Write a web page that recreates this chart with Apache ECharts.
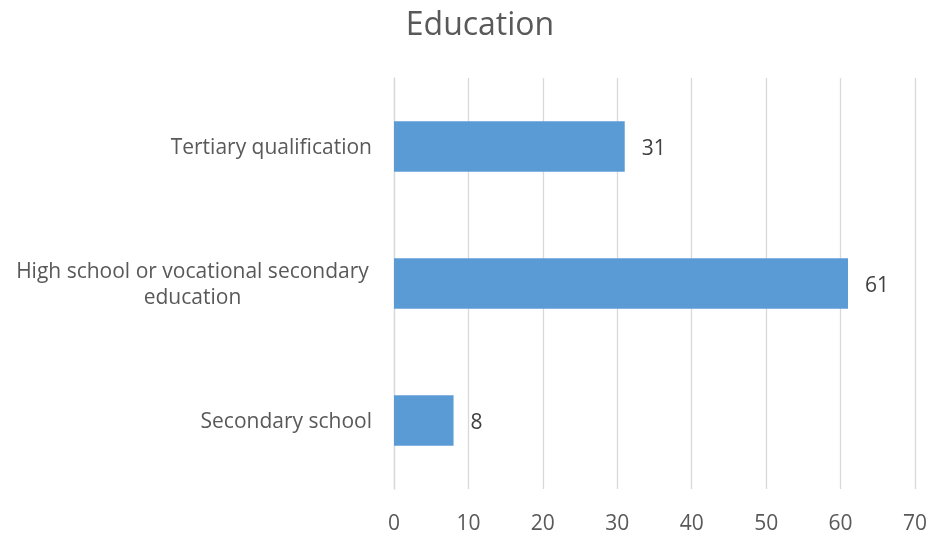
<!DOCTYPE html>
<html><head><meta charset="utf-8">
<script src="https://cdn.jsdelivr.net/npm/echarts@6/dist/echarts.min.js"></script>
<style>html,body{margin:0;padding:0;background:#fff}#c{width:931px;height:535px}</style>
</head><body><div id="c"></div>
<script>
const categories = ['Secondary school', 'High school or vocational secondary education', 'Tertiary qualification'];
const values = [8, 61, 31];
const xTicks = [0, 10, 20, 30, 40, 50, 60, 70];

const FONT = 'Open Sans';
const FS = 21;
const line1 = 'High school or vocational secondary';
const cv = document.createElement('canvas').getContext('2d');
cv.font = FS + 'px "' + FONT + '"';
const w1 = Math.ceil(cv.measureText(line1).width) + 6;

const chart = echarts.init(document.getElementById('c'));
chart.setOption({
  animation: false,
  title: {
    text: 'Education', left: 475, top: 5, textAlign: 'center',
    textStyle: { fontFamily: FONT, fontSize: 32, fontWeight: 'normal', color: '#595959' }
  },
  grid: { left: 394, right: 16, top: 78, bottom: 43 },
  xAxis: {
    type: 'value', min: xTicks[0], max: xTicks[xTicks.length - 1], interval: 10,
    axisLine: { show: false }, axisTick: { show: false },
    splitLine: { lineStyle: { color: '#d9d9d9', width: 1.3 } },
    axisLabel: { margin: 25, fontFamily: FONT, fontSize: FS, color: '#595959' }
  },
  yAxis: {
    type: 'category', data: categories,
    axisLine: { lineStyle: { color: '#d9d9d9', width: 1.3 } },
    axisTick: { length: 7, lineStyle: { color: '#d9d9d9', width: 1.3 } },
    axisLabel: {
      margin: 22, fontFamily: FONT, fontSize: FS, color: '#595959', lineHeight: 26,
      padding: [4, 0, 0, 0],
      formatter: function (v) {
        if (v.indexOf('High school') === 0) return '{a|' + line1 + '}\n{a|education}';
        return v;
      },
      rich: { a: { width: w1, align: 'center', fontFamily: FONT, fontSize: FS, color: '#595959', lineHeight: 26 } }
    }
  },
  series: [{
    type: 'bar', data: values, barWidth: '37%',
    itemStyle: { color: '#5b9bd5' },
    label: { show: true, position: 'right', distance: 17, offset: [0, 3], fontFamily: FONT, fontSize: FS, color: '#404040' }
  }]
});
</script></body></html>
